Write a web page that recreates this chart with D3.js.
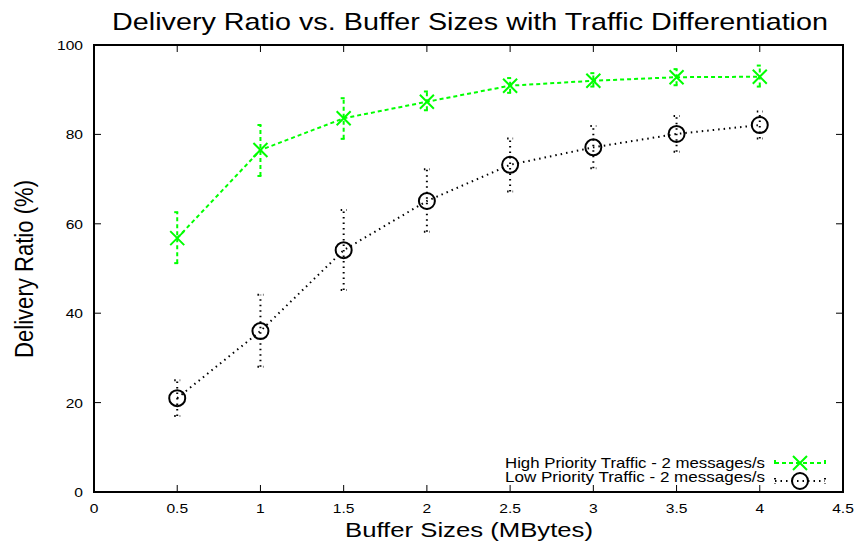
<!DOCTYPE html>
<html><head><meta charset="utf-8">
<script src="https://cdn.jsdelivr.net/npm/d3@7"></script>
<style>body{margin:0;background:#fff}text{font-family:"Liberation Sans",Arial,sans-serif;fill:#000}</style>
</head><body><svg id="c" width="858" height="543"></svg>
<script>
const buffer = [0.5,1,1.5,2,2.5,3,3.5,4];
const highVal = [56.8,76.5,83.6,87.3,90.9,92.0,92.8,92.9];
const highLo  = [51.2,70.7,79.0,85.4,89.3,90.7,91.0,90.7];
const highHi  = [62.6,82.1,88.1,89.6,92.6,93.7,94.6,95.4];
const lowVal  = [21.0,36.0,54.1,65.1,73.2,77.1,80.1,82.1];
const lowLo   = [17.0,28.0,45.2,58.2,67.2,72.4,76.1,79.1];
const lowHi   = [25.0,44.1,63.1,72.2,79.1,81.9,84.1,85.1];
const xTicks = [0,0.5,1,1.5,2,2.5,3,3.5,4,4.5];
const yTicks = [0,20,40,60,80,100];
const labels = ["High Priority Traffic - 2 messages/s","Low Priority Traffic - 2 messages/s"];

const svg = d3.select("#c");
const L=94,R=843,T=45,B=492;
const SX=1.2;
const x = d3.scaleLinear().domain([0,4.5]).range([L,R]);
const y = d3.scaleLinear().domain([0,100]).range([B,T]);

function txt(sel,tx,ty,size,anchor,s,len){
  const t=sel.append("text").attr("transform",`translate(${tx},${ty}) scale(${SX},1)`)
    .attr("font-size",size).attr("text-anchor",anchor).text(s);
  if(len) t.attr("textLength",len/SX).attr("lengthAdjust","spacingAndGlyphs");
  return t;
}

txt(svg,470,30,24,"middle","Delivery Ratio vs. Buffer Sizes with Traffic Differentiation",716);

const tk=7;
const g = svg.append("g");
xTicks.forEach(v=>{
  g.append("line").attr("x1",x(v)).attr("x2",x(v)).attr("y1",B).attr("y2",B-tk).attr("stroke","#000");
  g.append("line").attr("x1",x(v)).attr("x2",x(v)).attr("y1",T).attr("y2",T+tk).attr("stroke","#000");
  txt(g,x(v),513,13,"middle",String(v));
});
yTicks.forEach(v=>{
  g.append("line").attr("x1",L).attr("x2",L+tk).attr("y1",y(v)).attr("y2",y(v)).attr("stroke","#000");
  g.append("line").attr("x1",R).attr("x2",R-tk).attr("y1",y(v)).attr("y2",y(v)).attr("stroke","#000");
  txt(g,83,y(v)+5,13,"end",String(v));
});
svg.append("rect").attr("x",L).attr("y",T).attr("width",R-L).attr("height",B-T).attr("fill","none").attr("stroke","#000").attr("stroke-width",2);

txt(svg,469,537,21,"middle","Buffer Sizes (MBytes)",248);
svg.append("text").attr("transform","translate(33,269) scale(1.2,1) rotate(-90)").attr("text-anchor","middle")
  .attr("font-size",21).attr("textLength",178).attr("lengthAdjust","spacingAndGlyphs").text("Delivery Ratio (%)");

const series = [
  {val:highVal,lo:highLo,hi:highHi,color:"#00ff00",dash:"4,3",marker:"x"},
  {val:lowVal,lo:lowLo,hi:lowHi,color:"#000",dash:"1.5,4",marker:"o"}
];
const line = d3.line().x((d,i)=>x(buffer[i])).y(d=>y(d));
function marker(sel,type,cx,cy,color){
  if(type==="x"){
    const s=7;
    sel.append("path").attr("d",`M${cx-s},${cy-s}L${cx+s},${cy+s}M${cx-s},${cy+s}L${cx+s},${cy-s}`)
      .attr("stroke",color).attr("stroke-width",2).attr("fill","none");
  } else {
    sel.append("circle").attr("cx",cx).attr("cy",cy).attr("r",8).attr("stroke",color).attr("stroke-width",2).attr("fill","none");
  }
}
series.forEach(s=>{
  const gs=svg.append("g");
  gs.append("path").datum(s.val).attr("d",line).attr("fill","none").attr("stroke",s.color).attr("stroke-width",2).attr("stroke-dasharray",s.dash);
  buffer.forEach((b,i)=>{
    const cx=x(b);
    gs.append("line").attr("x1",cx).attr("x2",cx).attr("y1",y(s.lo[i])).attr("y2",y(s.hi[i])).attr("stroke",s.color).attr("stroke-width",2).attr("stroke-dasharray",s.dash);
    [s.lo[i],s.hi[i]].forEach(v=>{
      gs.append("line").attr("x1",cx-3).attr("x2",cx+3).attr("y1",y(v)).attr("y2",y(v)).attr("stroke",s.color).attr("stroke-width",2).attr("stroke-dasharray",s.dash);
    });
    marker(gs,s.marker,cx,y(s.val[i]),s.color);
  });
});

// legend
const legTextY=[468,482], legMarkY=[463,481];
series.forEach((s,i)=>{
  const ly = legMarkY[i];
  txt(svg,765,legTextY[i],14,"end",labels[i],260);
  svg.append("line").attr("x1",775).attr("x2",825).attr("y1",ly).attr("y2",ly).attr("stroke",s.color).attr("stroke-width",2).attr("stroke-dasharray",s.dash);
  [775,825].forEach(xx=>svg.append("line").attr("x1",xx).attr("x2",xx).attr("y1",ly-3).attr("y2",ly+3).attr("stroke",s.color).attr("stroke-width",2).attr("stroke-dasharray",s.dash));
  marker(svg,s.marker,800,ly,s.color);
});
</script></body></html>
